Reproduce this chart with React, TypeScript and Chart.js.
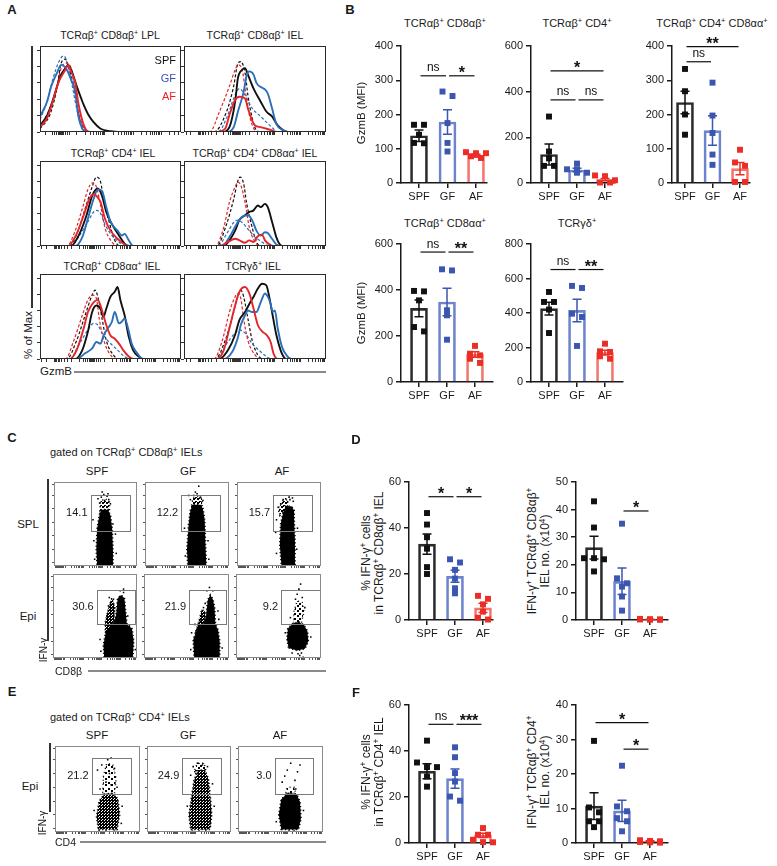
import React, { useEffect, useRef } from 'react';
import { Chart, registerables } from 'chart.js';

Chart.register(...registerables);

const FONT = '"Liberation Sans", Arial, Helvetica, sans-serif';
Chart.defaults.font.family = FONT;

type Pt = [number, number];

// ================= categories =================
const groups = ['SPF', 'GF', 'AF'];

// ================= Panel A: GzmB histograms (x: 0-100 display units, y: % of max) =================
const h1Spf: Pt[] = [[0,8],[5,20],[9,38],[12,55],[15,70],[18,78],[20,82],[23,72],[26,56],[29,42],[31,33],[34,22],[38,12],[43,4],[50,1],[56,0],[100,0]];
const h1Gf: Pt[] = [[0,19],[5,37],[8,56],[12,72],[15,82],[19,76],[22,64],[25,49],[27,21],[30,4],[32,1],[35,0],[100,0]];
const h1Af: Pt[] = [[0,6],[5,17],[9,37],[13,60],[18,76],[20,82],[22,74],[25,60],[27,37],[30,14],[33,2],[36,0],[100,0]];
const h1SpfIso: Pt[] = [[0,4],[7,21],[12,53],[15,84],[18,89],[20,80],[24,56],[27,25],[31,4],[34,0],[100,0]];
const h1GfIso: Pt[] = [[0,15],[5,37],[9,64],[14,88],[17,93],[19,86],[22,64],[26,29],[30,6],[33,0],[100,0]];
const h1AfIso: Pt[] = [[0,6],[7,29],[12,56],[15,78],[19,84],[21,82],[25,56],[28,21],[32,3],[35,0],[100,0]];

const h2Spf: Pt[] = [[0,0],[27,0],[32,6],[36,37],[38,66],[41,76],[43,78],[45,70],[49,53],[54,37],[58,25],[62,19],[66,8],[70,2],[73,0],[100,0]];
const h2Gf: Pt[] = [[0,0],[30,0],[35,6],[38,25],[42,49],[44,68],[46,74],[49,70],[51,60],[55,54],[57,52],[59,47],[62,29],[65,10],[70,2],[73,0],[100,0]];
const h2Af: Pt[] = [[0,0],[23,0],[29,4],[32,21],[36,39],[39,43],[43,41],[45,29],[48,14],[50,8],[54,6],[58,4],[62,2],[65,0],[100,0]];
const h2SpfIso: Pt[] = [[0,0],[21,0],[30,25],[35,56],[38,84],[40,86],[43,72],[45,45],[48,17],[51,2],[54,0],[100,0]];
const h2GfIso: Pt[] = [[0,0],[24,0],[30,17],[35,41],[39,53],[43,45],[48,29],[54,19],[58,12],[63,4],[66,0],[100,0]];
const h2AfIso: Pt[] = [[0,0],[18,0],[25,25],[32,56],[36,76],[38,82],[41,76],[43,53],[46,21],[50,2],[53,0],[100,0]];

const h3Spf: Pt[] = [[0,0],[22,0],[28,15],[33,38],[37,62],[41,71],[44,62],[47,42],[51,27],[56,13],[60,3],[64,0],[100,0]];
const h3Gf: Pt[] = [[0,0],[25,0],[30,11],[34,34],[38,58],[41,70],[44,68],[47,48],[50,30],[55,19],[58,13],[60,15],[63,7],[66,0],[100,0]];
const h3Af: Pt[] = [[0,0],[20,0],[26,15],[31,38],[35,58],[38,64],[40,62],[43,54],[46,34],[50,19],[55,9],[59,3],[63,0],[100,0]];
const h3SpfIso: Pt[] = [[0,0],[21,0],[27,19],[32,46],[37,73],[40,85],[43,79],[45,58],[49,30],[53,7],[57,0],[100,0]];
const h3GfIso: Pt[] = [[0,0],[22,0],[28,13],[34,30],[38,42],[40,44],[43,40],[46,27],[51,13],[56,5],[59,0],[100,0]];
const h3AfIso: Pt[] = [[0,0],[19,0],[25,19],[30,46],[34,70],[37,78],[40,73],[43,50],[46,23],[51,5],[55,0],[100,0]];

const h4Spf: Pt[] = [[0,0],[28,0],[32,7],[36,19],[39,32],[43,38],[46,42],[49,44],[52,50],[54,48],[57,52],[59,48],[62,30],[65,11],[68,1],[70,0],[100,0]];
const h4Gf: Pt[] = [[0,0],[27,0],[32,11],[37,27],[41,36],[45,38],[48,32],[51,19],[54,13],[57,17],[59,16],[62,9],[65,2],[68,0],[100,0]];
const h4Af: Pt[] = [[0,0],[25,0],[31,5],[36,9],[39,7],[43,4],[46,7],[49,5],[52,12],[55,14],[57,7],[61,1],[63,0],[100,0]];
const h4SpfIso: Pt[] = [[0,0],[23,0],[30,27],[35,58],[38,81],[39.5,85],[42,77],[44,54],[48,23],[51,5],[55,0],[100,0]];
const h4GfIso: Pt[] = [[0,0],[24,0],[30,15],[35,29],[38,32],[41,29],[45,21],[50,11],[55,5],[58,1],[61,0],[100,0]];
const h4AfIso: Pt[] = [[0,0],[22,0],[28,23],[32,54],[36,73],[38,79],[40,75],[43,54],[46,23],[50,5],[54,0],[100,0]];

const h5Spf: Pt[] = [[0,0],[25,0],[30,11],[34,34],[37,58],[40,66],[43,62],[45,52],[47,62],[50,77],[53,83],[55,89],[57,73],[60,54],[63,27],[66,11],[70,3],[73,0],[100,0]];
const h5Gf: Pt[] = [[0,0],[26,0],[32,7],[37,13],[40,21],[43,19],[45,29],[49,40],[51,46],[53,58],[56,44],[58,46],[60,50],[63,34],[65,19],[69,7],[73,0],[100,0]];
const h5Af: Pt[] = [[0,0],[21,0],[26,11],[31,38],[34,58],[38,70],[41,73],[44,60],[47,42],[50,29],[53,25],[56,19],[59,11],[63,3],[66,0],[100,0]];
const h5SpfIso: Pt[] = [[0,0],[19,0],[26,23],[32,54],[37,79],[39,85],[41,77],[44,50],[47,23],[52,5],[56,0],[100,0]];
const h5GfIso: Pt[] = [[0,0],[21,0],[28,19],[34,36],[38,44],[41,42],[44,32],[49,21],[55,11],[60,3],[64,0],[100,0]];
const h5AfIso: Pt[] = [[0,0],[18,0],[24,23],[30,54],[34,73],[37,79],[40,75],[42,50],[46,19],[51,3],[55,0],[100,0]];

const h6Spf: Pt[] = [[0,0],[25,0],[31,11],[36,30],[39,48],[43,58],[46,68],[49,77],[52,87],[55,93],[58,91],[60,77],[62,58],[65,30],[68,11],[70,3],[72,0],[100,0]];
const h6Gf: Pt[] = [[0,0],[28,0],[34,9],[38,27],[40,42],[43,54],[45,60],[48,58],[51,58],[54,70],[57,81],[59,77],[61,68],[62.5,58],[64,60],[66,38],[69,15],[73,3],[76,0],[100,0]];
const h6Af: Pt[] = [[0,0],[23,0],[28,11],[32,38],[36,66],[39,83],[43,89],[46,81],[49,62],[52,42],[55,34],[58,30],[61,21],[63,7],[66,0],[100,0]];
const h6SpfIso: Pt[] = [[0,0],[22,0],[29,23],[35,58],[38,79],[40,85],[42,77],[45,50],[48,23],[52,5],[56,0],[100,0]];
const h6GfIso: Pt[] = [[0,0],[23,0],[30,19],[36,32],[39,36],[43,32],[48,19],[54,9],[58,3],[62,0],[100,0]];
const h6AfIso: Pt[] = [[0,0],[21,0],[27,23],[32,58],[36,77],[38,81],[40,75],[42,50],[45,23],[50,5],[54,0],[100,0]];

// ================= Panel B: GzmB (MFI) =================
const b1Means = [138, 178, 80];
const b1Sem = [17, 36, 4];
const b1Spf = [170, 170, 141, 117, 116];
const b1Gf = [267, 254, 175, 117, 92];
const b1Af = [90, 87, 87, 78, 73];

const b2Means = [125, 57, 15];
const b2Sem = [46, 8, 5];
const b2Spf = [291, 138, 108, 75, 75];
const b2Gf = [85, 60, 60, 45, 45];
const b2Af = [33, 30, 12, 2, 2];

const b3Means = [235, 153, 42];
const b3Sem = [33, 43, 18];
const b3Spf = [333, 268, 200, 141];
const b3Gf = [293, 197, 146, 83, 53];
const b3Af = [97, 60, 50, 3, 3];

const b4Means = [320, 348, 120];
const b4Sem = [36, 60, 12];
const b4Spf = [396, 394, 355, 239, 220];
const b4Gf = [490, 485, 312, 290, 184];
const b4Af = [157, 123, 116, 101, 83];

const b5Means = [425, 415, 170];
const b5Sem = [37, 65, 14];
const b5Spf = [522, 464, 464, 420, 284];
const b5Gf = [557, 545, 396, 377, 209];
const b5Af = [222, 178, 174, 149, 135];

// ================= Panel D: IFN-γ in CD8αβ IEL =================
const d1Means = [33, 19, 5.3];
const d1Sem = [4.4, 2.6, 2];
const d1Spf = [46.5, 41.5, 36, 31, 23, 20];
const d1Gf = [26.4, 25, 21.8, 18, 13.8, 11.6];
const d1Af = [10.5, 9.2, 6.8, 3.6, 1, 0.2];

const d2Means = [26.2, 14, 0.25];
const d2Sem = [4.1, 4.8, 0.05];
const d2Spf = [43, 33.5, 22.4, 22.4, 22, 17.6];
const d2Gf = [34.9, 15.1, 13.3, 12.1, 8.5, 3.4];
const d2Af = [0.4, 0.3, 0.2, 0.2, 0.1, 0.1];

// ================= Panel F: IFN-γ in CD4 IEL =================
const f1Means = [31.2, 28, 3.3];
const f1Sem = [3.3, 4.2, 0.9];
const f1Spf = [44.5, 35, 33, 33, 28.9, 24.5];
const f1Gf = [41.6, 37.3, 30.4, 26.7, 20.2, 18.4];
const f1Af = [6.5, 3.6, 3.6, 1.4, 0.4, 0.3];

const f2Means = [10.7, 9.3, 0.5];
const f2Sem = [3.9, 3.1, 0.15];
const f2Spf = [29.6, 10.3, 8.9, 6.3, 6.3, 4.6];
const f2Gf = [22.4, 10.6, 9.2, 7.2, 6.3, 3.4];
const f2Af = [0.8, 0.6, 0.5, 0.3, 0.2, 0.1];

// significance annotations (group a – group b at value y)
const b1Sig = [{ a: 0, b: 1, y: 313, t: 'ns' }, { a: 1, b: 2, y: 313, t: '*' }];
const b2Sig = [{ a: 0, b: 2, y: 491, t: '*' }, { a: 0, b: 1, y: 364, t: 'ns' }, { a: 1, b: 2, y: 364, t: 'ns' }];
const b3Sig = [{ a: 0, b: 2, y: 398, t: '**' }, { a: 0, b: 1, y: 354, t: 'ns' }];
const b4Sig = [{ a: 0, b: 1, y: 565, t: 'ns' }, { a: 1, b: 2, y: 565, t: '**' }];
const b5Sig = [{ a: 0, b: 1, y: 652, t: 'ns' }, { a: 1, b: 2, y: 652, t: '**' }];
const d1Sig = [{ a: 0, b: 1, y: 53.6, t: '*' }, { a: 1, b: 2, y: 53.6, t: '*' }];
const d2Sig = [{ a: 1, b: 2, y: 39.5, t: '*' }];
const f1Sig = [{ a: 0, b: 1, y: 51.6, t: 'ns' }, { a: 1, b: 2, y: 51.6, t: '***' }];
const f2Sig = [{ a: 0, b: 2, y: 34.9, t: '*' }, { a: 1, b: 2, y: 27.2, t: '*' }];

// ================= Panels C / E: flow plots (display units 0-100) =================
const cSplPct = [14.1, 12.2, 15.7];
const cEpiPct = [30.6, 21.9, 9.2];
const ePct = [21.2, 24.9, 3.0];

const cSplGates = [{ x0: 44, x1: 91, y0: 42, y1: 85 }, { x0: 43, x1: 90, y0: 42, y1: 85 }, { x0: 43, x1: 89, y0: 42, y1: 85 }];
const cEpiGates = [{ x0: 52, x1: 97, y0: 40, y1: 81 }, { x0: 53, x1: 96, y0: 40, y1: 81 }, { x0: 53, x1: 99, y0: 40, y1: 81 }];
const eGates = [{ x0: 43, x1: 89, y0: 44, y1: 86 }, { x0: 42, x1: 89, y0: 44, y1: 86 }, { x0: 43, x1: 88, y0: 44, y1: 86 }];

const cSplSpfDense: Pt[] = [[52,0],[71,0],[71,20],[70,45],[68,60],[65,67],[58,67],[55,62],[52,45],[51,20]];
const cSplSpfSparse: Pt[] = [[55,64],[67,64],[67,76],[62,80],[56,77]];
const cSplSpfDots: Pt[] = [[57,82],[60,85],[64,83],[66,79],[55,75],[61,78],[65,86],[58,88],[71,50],[74,38],[49,8],[48,30],[75,15],[53,80],[68,74],[47,55]];
const cSplGfDense: Pt[] = [[51,0],[73,0],[72,25],[71,55],[69,68],[66,73],[57,73],[54,66],[52,50],[50,20]];
const cSplGfSparse: Pt[] = [[55,70],[68,70],[68,80],[63,83],[57,81]];
const cSplGfDots: Pt[] = [[58,84],[62,86],[66,82],[69,78],[54,79],[60,88],[64,95],[75,30],[48,12],[76,8],[47,45],[52,84]];
const cSplAfDense: Pt[] = [[53,0],[69,0],[69,30],[68,55],[68,66],[65,71],[58,71],[55,64],[52,50],[51,25]];
const cSplAfSparse: Pt[] = [[51,60],[60,70],[61,79],[55,78],[49,68]];
const cSplAfDots: Pt[] = [[52,74],[49,70],[55,79],[58,80],[63,79],[67,77],[47,55],[46,40],[72,45],[71,20],[47,15],[62,82],[66,81]];

const cEpiSpfDense: Pt[] = [[61,0],[95,0],[96,20],[94,35],[88,40],[86,60],[85,71],[81,75],[77,71],[75,50],[71,40],[63,32],[60,15]];
const cEpiSpfSparse: Pt[] = [[62,30],[72,40],[74,60],[70,72],[66,60],[62,42]];
const cEpiSpfDots: Pt[] = [[66,62],[69,66],[71,58],[64,50],[72,70],[57,8],[56,22],[80,80],[84,78],[89,50],[91,38],[98,10],[67,72],[78,66],[84,82]];
const cEpiGfDense: Pt[] = [[59,0],[89,0],[89,20],[87,34],[84,40],[83,60],[81,70],[78,75],[75,69],[73,50],[70,40],[63,36],[58,22]];
const cEpiGfSparse: Pt[] = [[60,30],[71,38],[72,55],[68,58],[64,42]];
const cEpiGfDots: Pt[] = [[77,84],[74,80],[70,60],[68,50],[66,44],[88,46],[87,56],[55,10],[56,30],[92,12],[81,80],[72,65],[60,40]];
const cEpiAfDense: Pt[] = [[62,12],[72,9],[81,11],[85,20],[84,32],[80,39],[74,43],[67,41],[61,35],[60,22]];
const cEpiAfSparse: Pt[] = [[68,40],[77,42],[80,55],[78,66],[72,68],[68,55]];
const cEpiAfDots: Pt[] = [[74,82],[72,76],[78,72],[70,70],[81,60],[75,3],[79,1],[73,5],[66,6],[58,30],[88,25],[64,48],[76,88],[77,6]];

const eSpfDense: Pt[] = [[51,3],[73,3],[76,20],[74,38],[69,45],[58,44],[52,36],[49,18]];
const eSpfSparse: Pt[] = [[56,44],[70,45],[72,62],[68,78],[61,80],[57,66]];
const eSpfDots: Pt[] = [[50,72],[55,78],[62,84],[66,86],[70,74],[60,58],[66,55],[73,52],[53,50],[46,25],[79,30],[78,10],[52,1],[60,1],[70,1],[64,68]];
const eGfDense: Pt[] = [[52,3],[75,3],[77,20],[75,45],[73,62],[69,72],[61,72],[56,60],[53,40],[50,20]];
const eGfSparse: Pt[] = [[56,70],[70,72],[68,80],[60,80]];
const eGfDots: Pt[] = [[55,76],[60,80],[66,78],[72,76],[52,66],[78,56],[48,30],[80,30],[54,1],[62,1],[70,1],[75,10],[58,68]];
const eAfDense: Pt[] = [[51,3],[71,3],[74,15],[73,35],[69,44],[58,45],[51,38],[48,20]];
const eAfSparse: Pt[] = [[56,45],[68,45],[66,52],[58,52]];
const eAfDots: Pt[] = [[55,65],[58,72],[70,70],[73,78],[62,80],[52,58],[67,60],[60,1],[66,1],[45,12],[77,25],[68,50]];

// ================= styles =================
const HK = '#111111';
const HB = '#2c6fba';
const HR = '#e4252b';
const pointColors = ['#111111', '#3a56b0', '#ec2d26'];
const barEdge = ['#2b2b2b', '#6d84cc', '#f3756d'];
const TXT = '#1a1a1a';

// axis decoration (biexponential-looking minor ticks)
const logFrac = [0.301, 0.477, 0.602, 0.699, 0.778, 0.845, 0.903, 0.954];
function biexTicks(zero: number, first: number, decade: number): number[] {
  const t: number[] = [];
  [-6, -4.5, -3, -2, -1.2, -0.5, 0, 0.5, 1.2, 2, 3, 4.5, 6].forEach((d) => t.push(zero + d));
  for (let k = 0; k < 6; k++) {
    const base = first + k * decade;
    t.push(base);
    logFrac.forEach((f) => t.push(base + f * decade));
    const nb = zero - (first - zero) - k * decade;
    t.push(nb);
    logFrac.forEach((f) => t.push(nb - f * decade));
  }
  return t.filter((v) => v >= 0.5 && v <= 99.5);
}
const ticksLPL = biexTicks(15, 26, 20);
const ticksIEL = biexTicks(37, 46, 18);
const ticksDot = biexTicks(6, 14, 22);

// ================= helpers =================
function ChartCanvas(props: { left: number; top: number; width: number; height: number; config: () => any }) {
  const ref = useRef<HTMLCanvasElement | null>(null);
  useEffect(() => {
    if (!ref.current) return;
    const chart = new Chart(ref.current, props.config());
    return () => chart.destroy();
  }, []);
  return (
    <canvas
      ref={ref}
      width={props.width}
      height={props.height}
      style={{ position: 'absolute', left: props.left, top: props.top, width: props.width, height: props.height }}
    />
  );
}

const framePlugin = (color: string) => ({
  id: 'frame',
  afterDraw(chart: any) {
    const { ctx, chartArea: a } = chart;
    ctx.save();
    ctx.strokeStyle = color;
    ctx.lineWidth = 1;
    ctx.strokeRect(a.left + 0.5, a.top + 0.5, a.right - a.left - 1, a.bottom - a.top - 1);
    ctx.restore();
  },
});

function tickAxis(min: number, max: number, ticks: number[], size: number, len: number, color: string) {
  return {
    type: 'linear',
    min,
    max,
    ticks: { display: false },
    afterBuildTicks: (s: any) => {
      s.ticks = ticks.map((v) => ({ value: v }));
    },
    grid: { display: true, drawOnChartArea: false, drawTicks: true, tickLength: len, color, lineWidth: 1 },
    border: { display: false },
    afterFit: (s: any) => {
      if (s.isHorizontal()) s.height = size;
      else s.width = size;
    },
  };
}

type Curve = { pts: Pt[]; color: string; dash: boolean };

function histConfig(curves: Curve[], xt: number[]) {
  return () => ({
    type: 'line',
    data: {
      datasets: curves.map((c) => ({
        data: c.pts.map(([x, y]) => ({ x, y })),
        borderColor: c.color,
        borderWidth: c.dash ? 1.2 : 1.9,
        borderDash: c.dash ? [3, 2] : [],
        pointRadius: 0,
        cubicInterpolationMode: 'monotone',
        fill: false,
      })),
    },
    options: {
      animation: false,
      responsive: false,
      events: [],
      plugins: { legend: { display: false }, tooltip: { enabled: false } },
      layout: { padding: { top: 1, right: 1, left: 0, bottom: 0 } },
      scales: {
        x: tickAxis(0, 100, xt, 4, 3, '#333'),
        y: tickAxis(0, 105, [0, 20, 40, 60, 80, 100], 4, 3, '#333'),
      },
    },
    plugins: [framePlugin('#2a2a2a')],
  });
}

function Hist(p: { l: number; t: number; r: number; b: number; curves: Curve[]; xt: number[] }) {
  return <ChartCanvas left={p.l - 4} top={p.t - 1} width={p.r - p.l + 5} height={p.b - p.t + 5} config={histConfig(p.curves, p.xt)} />;
}

const hc = (spf: Pt[], gf: Pt[], af: Pt[], spfI: Pt[], gfI: Pt[], afI: Pt[]): Curve[] => [
  { pts: af, color: HR, dash: false },
  { pts: gf, color: HB, dash: false },
  { pts: spf, color: HK, dash: false },
  { pts: afI, color: HR, dash: true },
  { pts: gfI, color: HB, dash: true },
  { pts: spfI, color: HK, dash: true },
];

type Gate = { x0: number; x1: number; y0: number; y1: number };
// tile: 0 = solid black, n>0 = stippled texture with an n×n tile
type DotSpec = { dense: Pt[]; sparse: Pt[]; dots: Pt[]; gate: Gate; pct: number; denseTile: number; sparseTile: number };

function stipple(ctx: CanvasRenderingContext2D, n: number): any {
  if (!n) return '#000';
  const c = document.createElement('canvas');
  c.width = n;
  c.height = n;
  const g = c.getContext('2d')!;
  g.fillStyle = '#000';
  g.fillRect(0, 0, 2, 2);
  g.fillRect(Math.floor(n / 2), Math.floor(n / 2) + (n > 3 ? 1 : 0), 2, 2);
  if (n <= 4) g.fillRect(Math.floor(n / 2), 0, 1, 1);
  return ctx.createPattern(c, 'repeat');
}

function dotConfig(d: DotSpec) {
  return () => ({
    type: 'scatter',
    data: {
      datasets: [
        {
          data: d.dots.map(([x, y]) => ({ x, y })),
          pointStyle: 'rect',
          pointRadius: 1.1,
          backgroundColor: '#000',
          borderWidth: 0,
        },
      ],
    },
    options: {
      animation: false,
      responsive: false,
      events: [],
      plugins: { legend: { display: false }, tooltip: { enabled: false } },
      layout: { padding: { top: 1, right: 1, left: 0, bottom: 0 } },
      scales: {
        x: tickAxis(0, 100, ticksDot, 3, 2, '#555'),
        y: tickAxis(0, 100, [4, 20, 36, 52, 68, 84, 97], 3, 2, '#555'),
      },
    },
    plugins: [
      {
        id: 'cloud',
        beforeDatasetsDraw(chart: any) {
          const { ctx, chartArea: a, scales } = chart;
          const px = (p: Pt) => [scales.x.getPixelForValue(p[0]), scales.y.getPixelForValue(p[1])];
          const poly = (pts: Pt[]) => {
            ctx.beginPath();
            pts.forEach((p, i) => {
              const [X, Y] = px(p);
              if (i) ctx.lineTo(X, Y);
              else ctx.moveTo(X, Y);
            });
            ctx.closePath();
          };
          ctx.save();
          ctx.beginPath();
          ctx.rect(a.left, a.top, a.right - a.left, a.bottom - a.top);
          ctx.clip();
          poly(d.sparse);
          ctx.fillStyle = stipple(ctx, d.sparseTile);
          ctx.fill();
          ctx.setLineDash([1, 3]);
          ctx.lineWidth = 1.4;
          ctx.strokeStyle = '#000';
          ctx.stroke();
          poly(d.dense);
          ctx.fillStyle = stipple(ctx, d.denseTile);
          ctx.fill();
          ctx.setLineDash([1.2, 2.4]);
          ctx.lineWidth = 1.8;
          ctx.strokeStyle = '#000';
          ctx.stroke();
          ctx.restore();
        },
        afterDatasetsDraw(chart: any) {
          const { ctx, scales } = chart;
          const g = d.gate;
          const x0 = scales.x.getPixelForValue(g.x0);
          const x1 = scales.x.getPixelForValue(g.x1);
          const y0 = scales.y.getPixelForValue(g.y0);
          const y1 = scales.y.getPixelForValue(g.y1);
          ctx.save();
          ctx.strokeStyle = '#7a7a7a';
          ctx.lineWidth = 1;
          ctx.strokeRect(Math.round(x0) + 0.5, Math.round(y1) + 0.5, Math.round(x1 - x0), Math.round(y0 - y1));
          ctx.fillStyle = TXT;
          ctx.font = `11px ${FONT}`;
          ctx.textAlign = 'right';
          ctx.textBaseline = 'middle';
          ctx.fillText(d.pct.toFixed(1), x0 - 3, (y0 + y1) / 2);
          ctx.restore();
        },
      },
      framePlugin('#8a8a8a'),
    ],
  });
}

function Dot(p: { l: number; t: number; r: number; b: number; d: DotSpec }) {
  return <ChartCanvas left={p.l - 3} top={p.t - 1} width={p.r - p.l + 4} height={p.b - p.t + 4} config={dotConfig(p.d)} />;
}

// bee-swarm-like spreading of replicate points with nearly equal values
function swarm(vals: number[], pxPerUnit: number, stepPx: number): number[] {
  const order = vals.map((_, i) => i).sort((a, b) => vals[b] - vals[a]);
  const offs = vals.map(() => 0);
  let row: number[] = [];
  const flush = () => {
    row.forEach((id, k) => {
      offs[id] = ((k - (row.length - 1) / 2) * 10) / stepPx;
    });
    row = [];
  };
  order.forEach((id) => {
    if (row.length && (row.length >= 3 || (vals[row[0]] - vals[id]) * pxPerUnit > 5)) flush();
    row.push(id);
  });
  flush();
  return offs;
}

type Box = { l: number; t: number; r: number; b: number };
type Sig = { a: number; b: number; y: number; t: string };
type BarSpec = {
  box: Box;
  cat0: number;
  step: number;
  yMax: number;
  yStep: number;
  means: number[];
  sems: number[];
  pts: number[][];
  sig: Sig[];
};

const PADL = 34, PADT = 18, PADR = 6, PADB = 24;

function barConfig(s: BarSpec) {
  return () => {
    const plotH = s.box.b - s.box.t;
    const pxPerUnit = plotH / s.yMax;
    const ptsData: any[] = [];
    const ptsCol: string[] = [];
    s.pts.forEach((vals, g) => {
      const offs = swarm(vals, pxPerUnit, s.step);
      vals.forEach((v, i) => {
        ptsData.push({ x: g + offs[i], y: v });
        ptsCol.push(pointColors[g]);
      });
    });
    const axisColor = '#1a1a1a';
    return {
      type: 'bar',
      data: {
        datasets: [
          {
            type: 'line',
            order: 1,
            data: ptsData,
            showLine: false,
            pointStyle: 'rect',
            pointRadius: 4.2,
            pointBackgroundColor: ptsCol,
            pointBorderWidth: 0,
            clip: false,
          },
          {
            type: 'bar',
            order: 2,
            data: s.means.map((m, i) => ({ x: i, y: m })),
            backgroundColor: 'rgba(255,255,255,0)',
            borderColor: barEdge,
            borderWidth: 2,
            barThickness: 17,
            borderSkipped: 'start',
          },
        ],
      },
      options: {
        animation: false,
        responsive: false,
        events: [],
        plugins: { legend: { display: false }, tooltip: { enabled: false } },
        layout: { padding: { top: PADT, right: PADR, left: 0, bottom: 0 } },
        scales: {
          x: {
            type: 'linear',
            offset: false,
            min: -(s.cat0 - s.box.l) / s.step,
            max: (s.box.r - s.cat0) / s.step,
            afterBuildTicks: (sc: any) => {
              sc.ticks = [0, 1, 2].map((v) => ({ value: v }));
            },
            ticks: {
              callback: (v: number) => groups[Math.round(v)] ?? '',
              font: { size: 11, family: FONT },
              color: axisColor,
              padding: 2,
              maxRotation: 0,
              autoSkip: false,
            },
            grid: { display: true, offset: false, drawOnChartArea: false, drawTicks: true, tickLength: 5, color: axisColor, lineWidth: 1.5 },
            border: { display: true, color: axisColor, width: 1.5 },
            afterFit: (sc: any) => {
              sc.height = PADB;
            },
          },
          y: {
            type: 'linear',
            min: 0,
            max: s.yMax,
            ticks: { stepSize: s.yStep, font: { size: 11, family: FONT }, color: axisColor, padding: 3 },
            grid: { display: true, drawOnChartArea: false, drawTicks: true, tickLength: 5, color: axisColor, lineWidth: 1.5 },
            border: { display: true, color: axisColor, width: 1.5 },
            afterFit: (sc: any) => {
              sc.width = PADL;
            },
          },
        },
      },
      plugins: [
        {
          id: 'errAndSig',
          afterDatasetsDraw(chart: any) {
            const { ctx, scales } = chart;
            const x = scales.x;
            const y = scales.y;
            ctx.save();
            ctx.lineWidth = 1.5;
            s.means.forEach((m, g) => {
              const px = x.getPixelForValue(g);
              const top = y.getPixelForValue(m + s.sems[g]);
              const bot = y.getPixelForValue(Math.max(0, m - s.sems[g]));
              ctx.strokeStyle = pointColors[g];
              ctx.beginPath();
              ctx.moveTo(px, top);
              ctx.lineTo(px, bot);
              ctx.moveTo(px - 4.5, top);
              ctx.lineTo(px + 4.5, top);
              ctx.moveTo(px - 4.5, bot);
              ctx.lineTo(px + 4.5, bot);
              ctx.stroke();
            });
            ctx.strokeStyle = '#111';
            ctx.fillStyle = '#111';
            ctx.lineWidth = 1.2;
            ctx.textAlign = 'center';
            ctx.textBaseline = 'alphabetic';
            s.sig.forEach((sg) => {
              const x1 = x.getPixelForValue(sg.a) + 1.5;
              const x2 = x.getPixelForValue(sg.b) - 1.5;
              const py = y.getPixelForValue(sg.y);
              ctx.beginPath();
              ctx.moveTo(x1, py);
              ctx.lineTo(x2, py);
              ctx.stroke();
              const star = sg.t.startsWith('*');
              ctx.font = star ? `bold 16px ${FONT}` : `12px ${FONT}`;
              ctx.fillText(sg.t, (x1 + x2) / 2, py + (star ? 2 : -4.5));
            });
            ctx.restore();
          },
        },
      ],
    };
  };
}

function Bars(p: { s: BarSpec }) {
  const b = p.s.box;
  return (
    <ChartCanvas
      left={b.l - PADL}
      top={b.t - PADT}
      width={b.r - b.l + PADL + PADR}
      height={b.b - b.t + PADT + PADB}
      config={barConfig(p.s)}
    />
  );
}

const S = (t: string) => <sup style={{ fontSize: '0.68em', verticalAlign: '0.5em', lineHeight: 0 }}>{t}</sup>;

function Txt(p: { x: number; y: number; size?: number; anchor?: string; rot?: boolean; color?: string; bold?: boolean; children: any }) {
  const anchor = p.anchor || 'middle';
  const tx = anchor === 'middle' ? '-50%' : anchor === 'end' ? '-100%' : '0%';
  return (
    <div
      style={{
        position: 'absolute',
        left: p.x,
        top: p.y,
        transform: `translate(${tx}, -50%)${p.rot ? ' rotate(-90deg)' : ''}`,
        whiteSpace: 'nowrap',
        fontSize: p.size || 11,
        fontFamily: FONT,
        color: p.color || TXT,
        fontWeight: p.bold ? 700 : 400,
        lineHeight: 1.15,
      }}
    >
      {p.children}
    </div>
  );
}

function Line(p: { x1: number; y1: number; x2: number; y2: number; color?: string; w?: number }) {
  const w = p.w || 1.5;
  const horiz = p.y1 === p.y2;
  return (
    <div
      style={{
        position: 'absolute',
        left: horiz ? p.x1 : p.x1 - w / 2,
        top: horiz ? p.y1 - w / 2 : p.y1,
        width: horiz ? p.x2 - p.x1 : w,
        height: horiz ? w : p.y2 - p.y1,
        background: p.color || '#333',
      }}
    />
  );
}

// ================= App =================
export default function App() {
  const colX = [[53, 140], [144, 232], [236, 324]];
  const eColX = [[54, 143], [146, 234], [237, 326]];
  const splDense = [cSplSpfDense, cSplGfDense, cSplAfDense];
  const splSparse = [cSplSpfSparse, cSplGfSparse, cSplAfSparse];
  const splDots = [cSplSpfDots, cSplGfDots, cSplAfDots];
  const epiDense = [cEpiSpfDense, cEpiGfDense, cEpiAfDense];
  const epiSparse = [cEpiSpfSparse, cEpiGfSparse, cEpiAfSparse];
  const epiDots = [cEpiSpfDots, cEpiGfDots, cEpiAfDots];
  const eDense = [eSpfDense, eGfDense, eAfDense];
  const eSparse = [eSpfSparse, eGfSparse, eAfSparse];
  const eDots = [eSpfDots, eGfDots, eAfDots];
  const eDenseTile = [3, 3, 0];
  const eSparseTile = [6, 5, 7];

  return (
    <div style={{ position: 'absolute', left: 0, top: 0, width: 777, height: 866, background: '#fff', overflow: 'hidden' }}>
      {/* ---------- A ---------- */}
      <Txt x={12} y={10} size={13} bold>A</Txt>
      <Txt x={110} y={35} size={10.5}>TCRαβ{S('+')} CD8αβ{S('+')} LPL</Txt>
      <Txt x={255} y={35} size={10.5}>TCRαβ{S('+')} CD8αβ{S('+')} IEL</Txt>
      <Txt x={113} y={153} size={10.5}>TCRαβ{S('+')} CD4{S('+')} IEL</Txt>
      <Txt x={255} y={153} size={10.5}>TCRαβ{S('+')} CD4{S('+')} CD8αα{S('+')} IEL</Txt>
      <Txt x={112} y={266} size={10.5}>TCRαβ{S('+')} CD8αα{S('+')} IEL</Txt>
      <Txt x={253} y={266} size={10.5}>TCRγδ{S('+')} IEL</Txt>

      <Hist l={40} t={46} r={181} b={132} curves={hc(h1Spf, h1Gf, h1Af, h1SpfIso, h1GfIso, h1AfIso)} xt={ticksLPL} />
      <Hist l={184} t={46} r={326} b={132} curves={hc(h2Spf, h2Gf, h2Af, h2SpfIso, h2GfIso, h2AfIso)} xt={ticksIEL} />
      <Hist l={40} t={161} r={181} b={246} curves={hc(h3Spf, h3Gf, h3Af, h3SpfIso, h3GfIso, h3AfIso)} xt={ticksIEL} />
      <Hist l={184} t={161} r={326} b={246} curves={hc(h4Spf, h4Gf, h4Af, h4SpfIso, h4GfIso, h4AfIso)} xt={ticksIEL} />
      <Hist l={40} t={274} r={181} b={359} curves={hc(h5Spf, h5Gf, h5Af, h5SpfIso, h5GfIso, h5AfIso)} xt={ticksIEL} />
      <Hist l={184} t={274} r={326} b={359} curves={hc(h6Spf, h6Gf, h6Af, h6SpfIso, h6GfIso, h6AfIso)} xt={ticksIEL} />

      <Txt x={176} y={60} size={11} anchor="end" color="#111">{groups[0]}</Txt>
      <Txt x={176} y={78} size={11} anchor="end" color="#3b4fb5">{groups[1]}</Txt>
      <Txt x={176} y={96} size={11} anchor="end" color="#e8202a">{groups[2]}</Txt>

      <Line x1={32} y1={46} x2={32} y2={308} color="#333" />
      <Txt x={29} y={335} size={11.5} rot>% of Max</Txt>
      <Txt x={40} y={372} size={11.5} anchor="start">GzmB</Txt>
      <Line x1={74} y1={372} x2={326} y2={372} color="#8a8a8a" />

      {/* ---------- B ---------- */}
      <Txt x={350} y={10} size={13} bold>B</Txt>
      <Txt x={445} y={23} size={11}>TCRαβ{S('+')} CD8αβ{S('+')}</Txt>
      <Txt x={577} y={23} size={11}>TCRαβ{S('+')} CD4{S('+')}</Txt>
      <Txt x={712} y={23} size={11}>TCRαβ{S('+')} CD4{S('+')} CD8αα{S('+')}</Txt>
      <Txt x={445} y={223} size={11}>TCRαβ{S('+')} CD8αα{S('+')}</Txt>
      <Txt x={577} y={223} size={11}>TCRγδ{S('+')}</Txt>
      <Txt x={362} y={113} size={11.5} rot>GzmB (MFI)</Txt>
      <Txt x={362} y={313} size={11.5} rot>GzmB (MFI)</Txt>

      <Bars s={{ box: { l: 401, t: 46, r: 487, b: 183 }, cat0: 419, step: 28.5, yMax: 400, yStep: 100, means: b1Means, sems: b1Sem, pts: [b1Spf, b1Gf, b1Af], sig: b1Sig }} />
      <Bars s={{ box: { l: 531, t: 46, r: 615, b: 183 }, cat0: 549, step: 28, yMax: 600, yStep: 200, means: b2Means, sems: b2Sem, pts: [b2Spf, b2Gf, b2Af], sig: b2Sig }} />
      <Bars s={{ box: { l: 672, t: 46, r: 750, b: 183 }, cat0: 685, step: 27.5, yMax: 400, yStep: 100, means: b3Means, sems: b3Sem, pts: [b3Spf, b3Gf, b3Af], sig: b3Sig }} />
      <Bars s={{ box: { l: 401, t: 244, r: 493, b: 382 }, cat0: 419, step: 28, yMax: 600, yStep: 200, means: b4Means, sems: b4Sem, pts: [b4Spf, b4Gf, b4Af], sig: b4Sig }} />
      <Bars s={{ box: { l: 531, t: 244, r: 623, b: 382 }, cat0: 549, step: 28, yMax: 800, yStep: 200, means: b5Means, sems: b5Sem, pts: [b5Spf, b5Gf, b5Af], sig: b5Sig }} />

      {/* ---------- C ---------- */}
      <Txt x={12} y={438} size={13} bold>C</Txt>
      <Txt x={50} y={452} size={11} anchor="start">gated on TCRαβ{S('+')} CD8αβ{S('+')} IELs</Txt>
      <Txt x={97} y={472} size={11.5}>{groups[0]}</Txt>
      <Txt x={188} y={472} size={11.5}>{groups[1]}</Txt>
      <Txt x={282} y={472} size={11.5}>{groups[2]}</Txt>
      <Txt x={28} y={525} size={11.5}>SPL</Txt>
      <Txt x={28} y={617} size={11.5}>Epi</Txt>
      {colX.map((c, i) => (
        <Dot key={'s' + i} l={c[0]} t={479} r={c[1]} b={567} d={{ dense: splDense[i], sparse: splSparse[i], dots: splDots[i], gate: cSplGates[i], pct: cSplPct[i], denseTile: 0, sparseTile: 4 }} />
      ))}
      {colX.map((c, i) => (
        <Dot key={'e' + i} l={c[0] - 1} t={571} r={c[1]} b={659} d={{ dense: epiDense[i], sparse: epiSparse[i], dots: epiDots[i], gate: cEpiGates[i], pct: cEpiPct[i], denseTile: 0, sparseTile: i === 2 ? 5 : 3 }} />
      ))}
      <Line x1={48} y1={479} x2={48} y2={640} color="#333" />
      <Txt x={44} y={650} size={10} rot>IFN-γ</Txt>
      <Txt x={55} y={671} size={10.5} anchor="start">CD8β</Txt>
      <Line x1={88} y1={671} x2={326} y2={671} color="#8a8a8a" />

      {/* ---------- D ---------- */}
      <Txt x={356} y={440} size={13} bold>D</Txt>
      <Txt x={367} y={553} size={12} rot>% IFN-γ{S('+')} cells</Txt>
      <Txt x={380} y={553} size={12} rot>in TCRαβ{S('+')} CD8αβ{S('+')} IEL</Txt>
      <Txt x={533} y={551} size={12} rot>IFN-γ{S('+')} TCRαβ{S('+')} CD8αβ{S('+')}</Txt>
      <Txt x={546} y={551} size={12} rot>IEL no. (x10{S('4')})</Txt>
      <Bars s={{ box: { l: 409, t: 482, r: 493, b: 620 }, cat0: 427, step: 28, yMax: 60, yStep: 20, means: d1Means, sems: d1Sem, pts: [d1Spf, d1Gf, d1Af], sig: d1Sig }} />
      <Bars s={{ box: { l: 576, t: 482, r: 668, b: 620 }, cat0: 594, step: 28, yMax: 50, yStep: 10, means: d2Means, sems: d2Sem, pts: [d2Spf, d2Gf, d2Af], sig: d2Sig }} />

      {/* ---------- E ---------- */}
      <Txt x={12} y={692} size={13} bold>E</Txt>
      <Txt x={50} y={717} size={11} anchor="start">gated on TCRαβ{S('+')} CD4{S('+')} IELs</Txt>
      <Txt x={97} y={736} size={11.5}>{groups[0]}</Txt>
      <Txt x={188} y={736} size={11.5}>{groups[1]}</Txt>
      <Txt x={280} y={736} size={11.5}>{groups[2]}</Txt>
      <Txt x={30} y={787} size={11.5}>Epi</Txt>
      {eColX.map((c, i) => (
        <Dot key={'E' + i} l={c[0]} t={743} r={c[1]} b={833} d={{ dense: eDense[i], sparse: eSparse[i], dots: eDots[i], gate: eGates[i], pct: ePct[i], denseTile: eDenseTile[i], sparseTile: eSparseTile[i] }} />
      ))}
      <Line x1={50} y1={743} x2={50} y2={812} color="#333" />
      <Txt x={43} y={823} size={10} rot>IFN-γ</Txt>
      <Txt x={55} y={842} size={10.5} anchor="start">CD4</Txt>
      <Line x1={80} y1={842} x2={326} y2={842} color="#8a8a8a" />

      {/* ---------- F ---------- */}
      <Txt x={356} y={693} size={13} bold>F</Txt>
      <Txt x={367} y={772} size={12} rot>% IFN-γ{S('+')} cells</Txt>
      <Txt x={380} y={772} size={12} rot>in TCRαβ{S('+')} CD4{S('+')} IEL</Txt>
      <Txt x={533} y={772} size={12} rot>IFN-γ{S('+')} TCRαβ{S('+')} CD4{S('+')}</Txt>
      <Txt x={546} y={772} size={12} rot>IEL no. (x10{S('4')})</Txt>
      <Bars s={{ box: { l: 409, t: 705, r: 493, b: 843 }, cat0: 427, step: 28, yMax: 60, yStep: 20, means: f1Means, sems: f1Sem, pts: [f1Spf, f1Gf, f1Af], sig: f1Sig }} />
      <Bars s={{ box: { l: 576, t: 705, r: 668, b: 843 }, cat0: 594, step: 28, yMax: 40, yStep: 10, means: f2Means, sems: f2Sem, pts: [f2Spf, f2Gf, f2Af], sig: f2Sig }} />
    </div>
  );
}
